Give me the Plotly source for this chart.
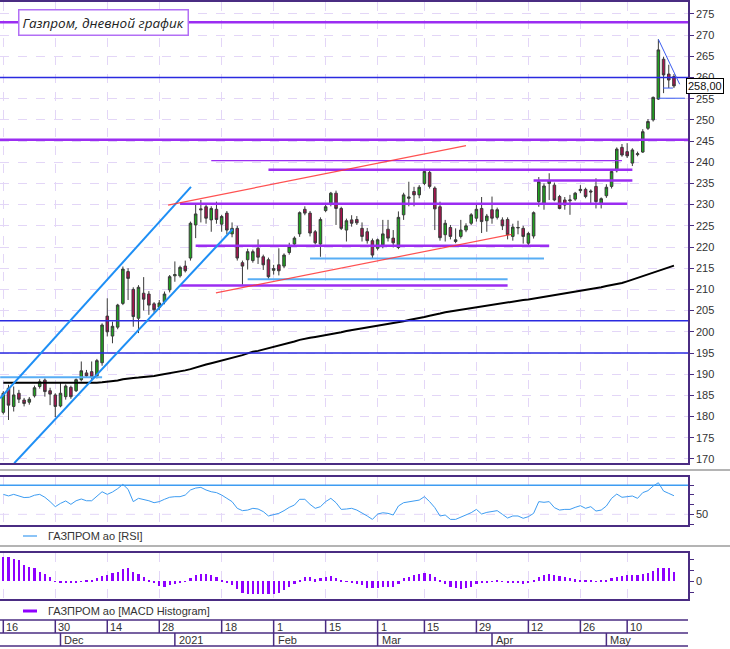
import plotly.graph_objects as go

# daily candles, 16 Nov 2020 .. 19 May 2021 (bar index = trading day)
opens = [181.0, 186.7, 182.4, 185.5, 183.9, 183.4, 184.9, 187.1, 188.6, 186.1,
         185.1, 182.5, 184.7, 186.9, 186.1, 188.7, 190.3, 190.6, 189.6, 192.7,
         203.7, 199.0, 201.1, 206.7, 214.2, 210.0, 203.2, 209.1, 208.9, 206.6,
         205.8, 207.1, 209.9, 213.2, 213.2, 215.5, 217.4, 225.2, 229.0, 229.5,
         226.4, 228.9, 225.4, 228.0, 223.1, 224.4, 216.3, 217.0, 216.8, 219.7,
         217.7, 217.0, 214.5, 215.8, 215.5, 218.7, 220.7, 223.1, 228.9, 228.0,
         223.6, 220.7, 228.6, 230.3, 232.7, 229.1, 224.0, 226.4, 226.5, 224.4,
         223.6, 221.5, 219.7, 220.5, 224.2, 222.1, 219.9, 227.6, 231.5, 233.1,
         232.3, 235.0, 237.6, 233.9, 229.5, 222.9, 224.6, 221.3, 222.5, 224.0,
         225.6, 226.8, 229.1, 226.2, 228.8, 227.0, 226.4, 226.5, 222.5, 224.5,
         224.4, 220.9, 222.6, 230.7, 230.3, 235.0, 234.6, 231.9, 231.1, 230.9,
         231.3, 233.3, 233.6, 233.2, 234.3, 230.3, 232.1, 234.3, 238.0, 243.5,
         242.5, 239.8, 241.8, 242.4, 248.0, 250.0, 254.9, 264.3, 260.8, 260.2]
highs = [186.0, 187.5, 187.1, 186.3, 184.4, 184.6, 187.3, 188.8, 189.0, 186.8,
         185.5, 187.9, 187.6, 187.3, 189.0, 193.0, 191.0, 193.0, 193.6, 202.0,
         207.9, 202.4, 206.6, 215.4, 215.0, 210.5, 211.0, 212.9, 209.6, 207.0,
         207.5, 209.5, 213.4, 216.6, 215.6, 216.8, 226.0, 230.3, 231.1, 230.2,
         229.6, 230.7, 227.6, 228.5, 225.8, 225.0, 216.8, 219.6, 219.4, 221.8,
         218.2, 217.5, 215.8, 219.7, 218.5, 221.0, 222.5, 228.4, 229.6, 228.5,
         224.0, 227.0, 230.1, 233.0, 233.3, 229.5, 226.7, 227.5, 227.3, 225.8,
         224.5, 222.0, 222.0, 226.4, 226.4, 224.0, 228.4, 232.8, 235.4, 234.2,
         234.6, 238.3, 238.0, 234.3, 230.7, 226.4, 225.2, 224.4, 226.4, 225.6,
         228.0, 230.1, 231.8, 227.8, 231.9, 229.3, 227.0, 227.0, 225.5, 226.2,
         225.0, 223.6, 228.4, 236.5, 235.0, 237.4, 235.2, 232.3, 231.8, 232.3,
         233.0, 234.6, 234.0, 233.6, 236.2, 231.7, 234.8, 238.2, 243.5, 244.3,
         244.5, 243.3, 242.5, 247.8, 250.2, 255.5, 269.0, 264.9, 263.0, 260.8]
lows = [180.5, 179.2, 181.2, 183.2, 182.4, 182.8, 184.5, 186.6, 184.7, 182.7,
        179.9, 182.2, 184.0, 184.2, 185.8, 188.3, 189.2, 188.7, 189.0, 192.0,
        198.9, 197.3, 200.6, 206.3, 207.5, 201.2, 199.7, 205.0, 204.0, 204.5,
        205.2, 206.5, 209.3, 211.8, 212.8, 214.0, 216.8, 222.1, 225.8, 225.5,
        223.6, 225.5, 223.6, 223.0, 222.3, 216.8, 211.1, 214.7, 216.3, 216.0,
        214.6, 212.5, 213.5, 213.3, 215.0, 218.2, 220.0, 222.4, 227.5, 222.5,
        220.6, 217.7, 228.2, 229.6, 225.2, 224.0, 221.3, 224.8, 225.2, 221.3,
        220.8, 217.4, 219.2, 219.7, 221.3, 219.9, 219.5, 226.4, 229.6, 229.6,
        231.5, 234.6, 233.8, 224.0, 221.5, 221.3, 221.8, 220.9, 222.0, 223.5,
        225.2, 226.0, 223.3, 223.6, 225.5, 226.5, 224.0, 221.8, 221.5, 223.0,
        220.8, 220.1, 222.0, 229.5, 228.8, 231.1, 230.8, 228.9, 228.8, 227.6,
        230.9, 232.7, 231.5, 230.3, 229.1, 229.1, 231.6, 233.8, 237.6, 241.3,
        241.0, 239.1, 241.4, 242.2, 247.6, 249.6, 254.7, 256.3, 257.5, 257.5]
closes = [185.5, 182.7, 185.1, 184.1, 183.1, 184.1, 186.8, 188.2, 185.9, 185.3,
          182.4, 185.5, 187.2, 184.7, 188.7, 190.8, 189.6, 189.3, 193.2, 201.6,
          200.0, 201.3, 206.3, 214.8, 212.6, 203.6, 210.5, 207.7, 206.3, 205.2,
          206.8, 208.9, 213.0, 213.5, 215.2, 214.4, 225.6, 227.8, 228.8, 226.8,
          229.1, 226.5, 227.2, 224.0, 224.4, 217.4, 215.5, 218.9, 218.9, 217.6,
          215.8, 213.0, 214.9, 214.4, 218.1, 220.1, 222.1, 228.1, 228.0, 223.3,
          221.0, 226.5, 229.5, 232.7, 229.1, 224.4, 226.2, 225.6, 225.7, 222.5,
          221.5, 218.1, 221.7, 223.1, 222.1, 221.0, 227.0, 232.3, 231.8, 232.3,
          234.1, 237.8, 234.3, 229.0, 222.2, 225.6, 222.5, 221.7, 224.0, 225.0,
          227.6, 228.9, 226.0, 227.3, 226.8, 228.8, 225.0, 222.9, 224.7, 224.6,
          222.5, 223.2, 228.1, 235.4, 234.4, 235.6, 231.1, 229.1, 229.9, 231.1,
          232.7, 233.6, 231.9, 233.0, 230.7, 231.4, 234.1, 237.8, 243.1, 241.7,
          241.5, 242.9, 242.0, 247.2, 249.6, 255.3, 266.5, 260.6, 259.4, 258.0]

ma200 = [188.0, 188.0, 188.0, 188.0, 188.0, 188.0, 188.0, 187.9, 187.9, 187.9,
         187.9, 187.9, 187.9, 188.0, 188.0, 188.0, 188.0, 188.0, 188.0, 188.1,
         188.2, 188.3, 188.5, 188.8, 189.0, 189.1, 189.2, 189.3, 189.5, 189.6,
         189.8, 190.0, 190.2, 190.4, 190.6, 190.9, 191.2, 191.6, 192.0, 192.3,
         192.6, 192.9, 193.2, 193.5, 193.8, 194.1, 194.5, 194.9, 195.3, 195.5,
         195.8, 196.1, 196.4, 196.7, 197.0, 197.3, 197.7, 198.1, 198.4, 198.6,
         198.8, 199.0, 199.2, 199.4, 199.7, 199.9, 200.2, 200.4, 200.6, 200.8,
         201.0, 201.2, 201.4, 201.6, 201.8, 202.0, 202.2, 202.5, 202.8, 203.0,
         203.3, 203.5, 203.8, 204.0, 204.3, 204.6, 204.8, 205.0, 205.2, 205.4,
         205.6, 205.8, 206.0, 206.2, 206.4, 206.6, 206.8, 207.0, 207.1, 207.3,
         207.5, 207.6, 207.8, 208.0, 208.2, 208.4, 208.6, 208.8, 209.0, 209.2,
         209.4, 209.6, 209.8, 210.0, 210.3, 210.5, 210.8, 211.0, 211.3, 211.5,
         211.9, 212.3, 212.7, 213.1, 213.5, 213.9, 214.4, 214.8, 215.2, 215.6]

rsi = [70.6, 69.0, 70.6, 69.0, 67.3, 67.6, 69.7, 70.6, 67.6, 63.1,
       57.9, 61.3, 63.8, 60.3, 64.0, 65.8, 64.0, 64.0, 68.2, 73.3,
       70.6, 73.0, 76.5, 80.9, 75.8, 63.1, 66.5, 65.5, 64.0, 62.0,
       63.1, 65.5, 67.6, 68.2, 68.2, 69.9, 75.1, 77.1, 77.8, 75.1,
       73.3, 72.4, 69.9, 66.5, 63.1, 56.2, 53.8, 54.4, 56.2, 55.5,
       52.8, 48.3, 50.0, 51.0, 53.8, 57.2, 59.6, 65.5, 65.5, 60.3,
       56.2, 57.9, 63.1, 66.5, 62.0, 55.1, 55.5, 56.2, 54.4, 51.7,
       48.3, 44.8, 50.3, 51.6, 51.0, 49.3, 58.6, 62.0, 62.7, 63.4,
       64.7, 68.2, 63.1, 56.9, 48.3, 49.3, 44.8, 44.8, 46.9, 49.0,
       51.7, 55.1, 50.3, 52.0, 52.8, 53.8, 50.0, 46.2, 48.3, 48.3,
       45.9, 47.6, 51.0, 63.1, 62.4, 63.1, 56.9, 54.4, 55.1, 55.1,
       57.2, 58.9, 56.2, 57.9, 53.4, 54.4, 58.6, 66.5, 70.9, 67.6,
       68.2, 68.9, 66.5, 72.4, 74.4, 79.2, 82.6, 74.0, 71.6, 69.2]
rsi_level = 80

macd_hist = [4.3, 4.3, 4.1, 3.8, 3.0, 2.5, 2.3, 1.7, 1.2, 0.7,
             -0.1, -0.2, -0.3, -0.4, -0.25, -0.1, 0.05, 0.2, 0.5, 0.9,
             1.1, 1.4, 1.7, 2.2, 2.3, 1.7, 1.3, 0.8, 0.1, -0.4,
             -0.9, -1.0, -0.7, -0.55, -0.3, -0.1, 0.5, 1.1, 1.3, 1.3,
             1.1, 0.7, 0.1, -0.3, -0.7, -1.5, -2.1, -2.4, -2.4, -2.4,
             -2.4, -2.4, -2.4, -2.1, -1.6, -1.15, -0.55, 0.1, 0.7, 0.7,
             0.3, 0.5, 0.8, 0.9, 0.6, 0.1, -0.1, -0.2, -0.55, -0.8,
             -1.3, -1.3, -1.2, -1.0, -1.15, -1.0, -0.55, 0.5, 0.8, 1.1,
             1.3, 1.5, 1.2, 0.8, 0.1, -0.55, -1.0, -1.3, -1.5, -1.3,
             -1.0, -0.55, -0.3, -0.25, -0.1, 0.06, -0.05, -0.25, -0.3, -0.4,
             -0.55, -0.4, 0.06, 0.7, 1.1, 1.3, 1.1, 0.9, 0.7, 0.5,
             0.36, 0.18, 0.12, 0.06, -0.02, 0.06, 0.12, 0.5, 0.8, 1.0,
             1.1, 1.1, 1.1, 1.3, 1.5, 1.8, 2.4, 2.4, 2.3, 1.7]

day_ticks = [0, 10, 20, 30, 42, 52, 62, 72, 81, 91, 101, 111, 120]
day_labels = ['16', '30', '14', '28', '18', '1', '15', '1', '15', '29', '12', '26', '10']
month_ticks = [11, 33, 52, 72, 94, 116]
month_labels = ['Dec', '2021', 'Feb', 'Mar', 'Apr', 'May']

# drawn levels / trend lines (bar index, price)
purple_levels = [273.0, 245.3]
blue_levels = [260.0, 202.6, 195.0]
purple_thin_segments = [(40, 119, 240.4)]
purple_segments = [(51, 121, 238.2), (102, 121, 235.7), (34, 120, 230.2),
                   (37, 105, 220.3), (34, 97, 210.9)]
sky_segments = [(59, 104, 217.3), (47, 97, 212.4), (-0.6, 19, 189.3)]
channel_lines = [(-0.6, 184.3, 36.1, 234.2), (2.1, 169.0, 44.1, 224.2)]
red_lines = [(31.7, 229.9, 89.0, 243.9), (40.9, 209.2, 97.8, 223.0)]
wedge_lines = [(126, 269.0, 130.1, 258.4), (126.9, 257.5, 128.8, 257.5),
               (126, 255.1, 131.1, 255.1)]
last_price = '258,00'

W, H = 730, 649
PURPLE = '#9b2df2'
FRAME = '#4a2c82'
GRID = '#e3d6f7'
BLUE = '#2a2ae0'
SKY = '#3d9cf2'
TXT = '#333333'
FONT = 'Liberation Sans'


def py(px):
    return 1 - px / H


bars = list(range(len(closes)))
xr = [-0.635, 131.7]
x_dom = [0, 688 / W]

fig = go.Figure()
fig.add_trace(go.Candlestick(
    x=bars, open=opens, high=highs, low=lows, close=closes,
    increasing=dict(line=dict(color='#3a3a3a', width=1), fillcolor='#1fa31f'),
    decreasing=dict(line=dict(color='#3a3a3a', width=1), fillcolor='#a8134f'),
    whiskerwidth=0, showlegend=False, hoverinfo='skip'))
fig.add_trace(go.Scatter(x=bars, y=ma200, mode='lines', line=dict(color='black', width=2),
                         showlegend=False, hoverinfo='skip'))
fig.add_trace(go.Scatter(x=bars, y=rsi, mode='lines', line=dict(color=SKY, width=1),
                         xaxis='x2', yaxis='y2', showlegend=False, hoverinfo='skip'))
fig.add_trace(go.Bar(x=bars, y=macd_hist, width=0.42, marker=dict(color='#8f00ff', line=dict(width=0)),
                     xaxis='x3', yaxis='y3', showlegend=False, hoverinfo='skip'))

for lv in purple_levels:
    fig.add_shape(type='line', xref='x domain', yref='y', x0=0, x1=1, y0=lv, y1=lv,
                  line=dict(color=PURPLE, width=2.5))
for lv in blue_levels:
    fig.add_shape(type='line', xref='x domain', yref='y', x0=0, x1=1, y0=lv, y1=lv,
                  line=dict(color=BLUE, width=1.5))
for a, b, lv in purple_thin_segments:
    fig.add_shape(type='line', xref='x', yref='y', x0=a, x1=b, y0=lv, y1=lv,
                  line=dict(color=PURPLE, width=1.2))
for a, b, lv in purple_segments:
    fig.add_shape(type='line', xref='x', yref='y', x0=a, x1=b, y0=lv, y1=lv,
                  line=dict(color=PURPLE, width=2.5))
for a, b, lv in sky_segments:
    fig.add_shape(type='line', xref='x', yref='y', x0=a, x1=b, y0=lv, y1=lv,
                  line=dict(color='#58aef5', width=2))
for a0, p0, a1, p1 in channel_lines:
    fig.add_shape(type='line', xref='x', yref='y', x0=a0, y0=p0, x1=a1, y1=p1,
                  line=dict(color='#1e8ff5', width=2))
for a0, p0, a1, p1 in red_lines:
    fig.add_shape(type='line', xref='x', yref='y', x0=a0, y0=p0, x1=a1, y1=p1,
                  line=dict(color='rgba(255,50,50,0.85)', width=1.2))
for a0, p0, a1, p1 in wedge_lines:
    fig.add_shape(type='line', xref='x', yref='y', x0=a0, y0=p0, x1=a1, y1=p1,
                  line=dict(color='#3a5cf0', width=1))

fig.add_shape(type='line', xref='x2 domain', yref='y2', x0=0, x1=1, y0=rsi_level, y1=rsi_level,
              line=dict(color=SKY, width=1.5))
fig.add_shape(type='line', xref='x2 domain', yref='y2', x0=0, x1=1, y0=50, y1=50,
              line=dict(color=GRID, width=1, dash='dash'), layer='below')

# panel separators
for yy in (470, 546):
    fig.add_shape(type='line', xref='paper', yref='paper', x0=0, x1=1, y0=py(yy), y1=py(yy),
                  line=dict(color='#b4b4b4', width=2))

# legends of the indicator panels
legend_rows = [(536, SKY, 1.2, 'ГАЗПРОМ ао [RSI]'), (611, '#8f00ff', 3, 'ГАЗПРОМ ао [MACD Histogram]')]
for yy, col, lw, txt in legend_rows:
    fig.add_shape(type='line', xref='paper', yref='paper', x0=23 / W, x1=37 / W, y0=py(yy), y1=py(yy),
                  line=dict(color=col, width=lw))
    fig.add_annotation(text=txt, xref='paper', yref='paper', x=46 / W, y=py(yy), xanchor='left',
                       yanchor='middle', showarrow=False, font=dict(family=FONT, size=11, color=TXT))

# date scale
for yy in (620, 633, 646):
    fig.add_shape(type='line', xref='paper', yref='paper', x0=0, x1=688 / W, y0=py(yy), y1=py(yy),
                  line=dict(color=FRAME, width=1.5))
for t, lab in zip(day_ticks, day_labels):
    fig.add_shape(type='line', xref='x', yref='paper', x0=t, x1=t, y0=py(633), y1=py(620),
                  line=dict(color=FRAME, width=1.5))
    fig.add_annotation(text=lab, xref='x', yref='paper', x=t, y=py(627), xanchor='left', xshift=1,
                       yanchor='middle', showarrow=False, font=dict(family=FONT, size=11, color=TXT))
for t, lab in zip(month_ticks, month_labels):
    fig.add_shape(type='line', xref='x', yref='paper', x0=t, x1=t, y0=py(646), y1=py(633),
                  line=dict(color=FRAME, width=1.5))
    fig.add_annotation(text=lab, xref='x', yref='paper', x=t, y=py(640), xanchor='left', xshift=2,
                       yanchor='middle', showarrow=False, font=dict(family=FONT, size=11, color=TXT))

fig.add_annotation(text='Газпром, дневной график', xref='paper', yref='paper', x=18 / W, y=py(9),
                   xanchor='left', yanchor='top', showarrow=False, bgcolor='white',
                   bordercolor='#b26ff5', borderwidth=1.5, borderpad=3,
                   font=dict(family='Open Sans', size=13.5, color='#222', style='italic'))
fig.add_annotation(text=last_price, xref='paper', yref='y', x=686 / W, y=closes[-1], xanchor='left',
                   yanchor='middle', showarrow=False, bgcolor='white', bordercolor='black',
                   borderwidth=1, borderpad=1, font=dict(family=FONT, size=11, color='#111'))

xcommon = dict(domain=x_dom, range=xr, showticklabels=False, ticks='', tickvals=day_ticks,
               showgrid=True, gridcolor=GRID, griddash='dash', gridwidth=1, showline=True,
               linecolor=FRAME, linewidth=1.5, mirror=True, zeroline=False, fixedrange=True)
ycommon = dict(side='right', ticks='outside', ticklen=4, tickcolor=FRAME, showline=True,
               linecolor=FRAME, linewidth=1.5, mirror=True, zeroline=False, automargin=False,
               tickfont=dict(family=FONT, size=11, color=TXT))

fig.update_layout(
    width=W, height=H, margin=dict(l=0, r=0, t=0, b=0),
    paper_bgcolor='white', plot_bgcolor='white', showlegend=False, bargap=0,
    xaxis=dict(xcommon, anchor='y', rangeslider=dict(visible=False)),
    xaxis2=dict(xcommon, anchor='y2', matches='x'),
    xaxis3=dict(xcommon, anchor='y3', matches='x'),
    yaxis=dict(ycommon, domain=[py(463), py(2)], anchor='x', range=[169.05, 277.8], tick0=170,
               dtick=5, showgrid=True, gridcolor=GRID, griddash='dash'),
    yaxis2=dict(ycommon, domain=[py(525), py(477)], anchor='x2', range=[39, 88.5],
                tickvals=[40, 50, 60, 70, 80], ticktext=['', '50', '', '', ''], showgrid=False),
    yaxis3=dict(ycommon, domain=[py(599), py(553)], anchor='x3', range=[-3.27, 5.1],
                tickvals=[-2, 0, 2, 4], ticktext=['', '0', '', ''], showgrid=False),
)

# the page's default body margin would push the chart off the window
fig.write_html("out.html", config={'displayModeBar': False},
               post_script="document.body.style.margin='0px';")
